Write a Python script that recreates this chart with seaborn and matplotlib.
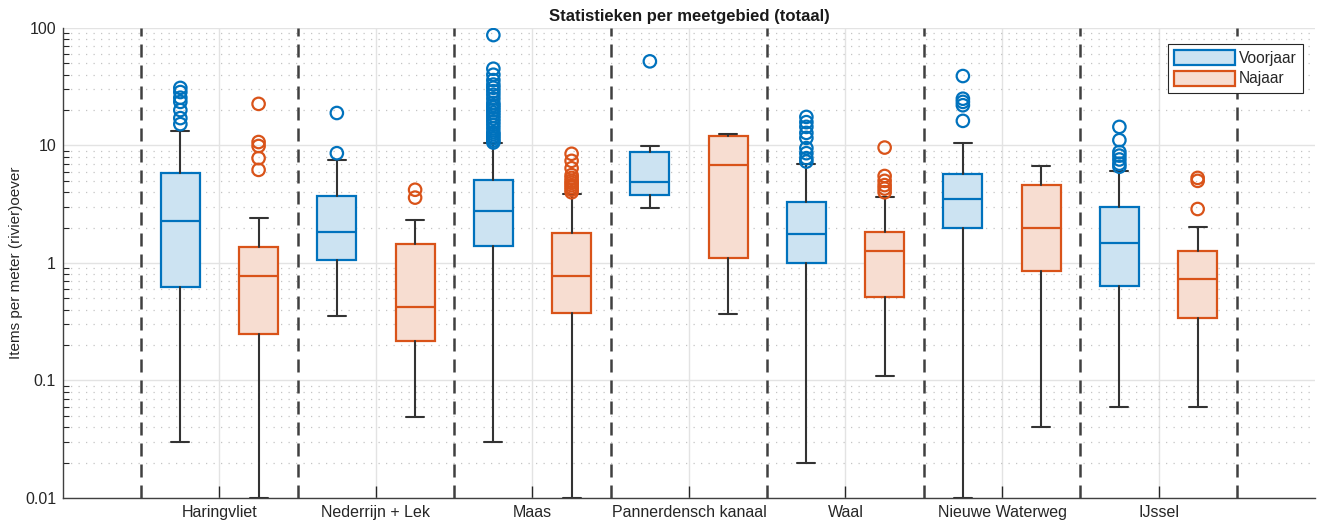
import matplotlib
matplotlib.use("Agg")
import matplotlib.pyplot as plt
from matplotlib.patches import Patch
import numpy as np
import pandas as pd
import seaborn as sns

# Meetgebieden en seizoenen
gebieden = ["Haringvliet", "Nederrijn + Lek", "Maas", "Pannerdensch kanaal",
            "Waal", "Nieuwe Waterweg", "IJssel"]
seizoenen = ["Voorjaar", "Najaar"]

# Boxplot-statistieken (items per meter oever): onderste whisker, Q1, mediaan, Q3, bovenste whisker
voorjaar_min = [0.03, 0.355, 0.03, 2.95, 0.02, 0.01, 0.06]
voorjaar_q1 = [0.625, 1.06, 1.40, 3.80, 1.00, 1.99, 0.64]
voorjaar_med = [2.28, 1.84, 2.77, 4.90, 1.77, 3.50, 1.48]
voorjaar_q3 = [5.80, 3.72, 5.10, 8.80, 3.30, 5.70, 3.00]
voorjaar_max = [13.3, 7.5, 10.5, 9.9, 6.97, 10.5, 6.07]

najaar_min = [0.01, 0.049, 0.01, 0.368, 0.11, 0.04, 0.06]
najaar_q1 = [0.249, 0.217, 0.375, 1.10, 0.51, 0.855, 0.34]
najaar_med = [0.776, 0.42, 0.776, 6.8, 1.26, 1.99, 0.73]
najaar_q3 = [1.37, 1.45, 1.80, 12.0, 1.84, 4.60, 1.26]
najaar_max = [2.42, 2.32, 3.87, 12.5, 3.65, 6.70, 2.02]

# Uitschieters per meetgebied
voorjaar_uitschieters = [
    [30.9, 28.5, 25.5, 23.5, 20.0, 17.1, 15.2],
    [18.9, 8.6],
    [87.0, 45, 40, 36, 33, 31, 29, 27, 25, 23, 22, 21, 20, 19, 18, 17,
     16, 15, 14, 13, 12.5, 12, 11.5, 11, 10.6],
    [52.0],
    [17.5, 15.8, 14.4, 12.8, 11.6, 9.5, 8.6, 7.8, 7.3],
    [39.0, 25.0, 23.5, 22.0, 16.2],
    [14.4, 11.1, 8.8, 8.2, 7.6, 7.0, 6.6],
]
najaar_uitschieters = [
    [22.6, 10.7, 9.9, 7.8, 6.2],
    [4.2, 3.6],
    [8.5, 7.4, 6.4, 5.6, 5.3, 5.0, 4.8, 4.6, 4.4, 4.2, 4.0],
    [],
    [9.6, 5.5, 5.0, 4.6, 4.3, 4.0],
    [],
    [5.3, 5.0, 2.88],
]

blauw = "#0072BD"
oranje = "#D95319"
blauw_licht = "#CCE3F2"
oranje_licht = "#F7DDD1"
whisker_kleur = "#333333"

sns.set_theme(style="white")
plt.rcParams["font.family"] = ["Liberation Sans", "DejaVu Sans"]
plt.rcParams["axes.edgecolor"] = "#404040"
plt.rcParams["xtick.color"] = "#262626"
plt.rcParams["ytick.color"] = "#262626"

fig = plt.figure(figsize=(13.17, 5.23), dpi=100)
ax = fig.add_axes([0.0478, 0.0478, 0.9507, 0.8987])

groep_pos = np.arange(1, len(gebieden) + 1)
breedte = 0.25
verschuiving = 0.25


def stats_van(lo, q1, med, q3, hi):
    return [dict(whislo=a, q1=b, med=c, q3=d, whishi=e, fliers=[])
            for a, b, c, d, e in zip(lo, q1, med, q3, hi)]


reeksen = [
    (stats_van(voorjaar_min, voorjaar_q1, voorjaar_med, voorjaar_q3, voorjaar_max),
     groep_pos - verschuiving, blauw, blauw_licht, voorjaar_uitschieters),
    (stats_van(najaar_min, najaar_q1, najaar_med, najaar_q3, najaar_max),
     groep_pos + verschuiving, oranje, oranje_licht, najaar_uitschieters),
]

for stats, posities, rand, vul, uitschieters in reeksen:
    ax.bxp(stats, positions=posities, widths=breedte, patch_artist=True,
           showfliers=False, manage_ticks=False, capwidths=0.115,
           boxprops=dict(facecolor=vul, edgecolor=rand, linewidth=1.6),
           medianprops=dict(color=rand, linewidth=1.6),
           whiskerprops=dict(color=whisker_kleur, linewidth=1.5),
           capprops=dict(color=whisker_kleur, linewidth=1.5),
           zorder=3)
    df = pd.DataFrame({
        "x": [p for p, u in zip(posities, uitschieters) for _ in u],
        "y": [v for u in uitschieters for v in u],
    })
    sns.scatterplot(data=df, x="x", y="y", ax=ax, marker="o", s=80,
                    color=rand, facecolor="none", edgecolor=rand,
                    linewidth=1.6, zorder=4, legend=False)

# Scheidingslijnen tussen de meetgebieden
for grens in np.arange(0.5, len(gebieden) + 1, 1.0):
    ax.axvline(grens, color="#404040", linewidth=1.8,
               linestyle=(0, (5.2, 3.2)), zorder=2)

ax.set_yscale("log")
ax.set_ylim(0.01, 100)
ax.set_xlim(0, len(gebieden) + 1)
ax.set_xticks(groep_pos)
ax.set_xticklabels(gebieden, fontsize=11.5)
ax.set_yticks([0.01, 0.1, 1, 10, 100])
ax.set_yticklabels(["0.01", "0.1", "1", "10", "100"], fontsize=11.5)
ax.yaxis.set_minor_locator(matplotlib.ticker.LogLocator(base=10, subs=np.arange(2, 10)))
ax.yaxis.set_minor_formatter(matplotlib.ticker.NullFormatter())

ax.tick_params(axis="both", which="major", direction="in", length=8, width=1,
               pad=5)
ax.tick_params(axis="y", which="minor", direction="in", length=4, width=0.8,
               left=True)
ax.tick_params(axis="x", which="major", length=9, bottom=True)

ax.grid(True, which="major", axis="both", color="#E3E3E3", linewidth=1.0,
        linestyle="-", zorder=0)
ax.grid(True, which="minor", axis="y", color="#C4C4C4", linewidth=0.9,
        linestyle=(0, (1, 5)), zorder=0)
ax.set_axisbelow(True)

for kant in ["top", "right"]:
    ax.spines[kant].set_visible(False)
for kant in ["left", "bottom"]:
    ax.spines[kant].set_color("#404040")
    ax.spines[kant].set_linewidth(1.0)

ax.set_xlabel("")
ax.set_ylabel("Items per meter (rivier)oever", fontsize=11, color="#262626",
              labelpad=1)
ax.set_title("Statistieken per meetgebied (totaal)", fontsize=12,
             fontweight="bold", color="#1a1a1a", pad=5)

handles = [Patch(facecolor=blauw_licht, edgecolor=blauw, linewidth=1.6, label=seizoenen[0]),
           Patch(facecolor=oranje_licht, edgecolor=oranje, linewidth=1.6, label=seizoenen[1])]
leg = ax.legend(handles=handles, loc="upper right", bbox_to_anchor=(0.99, 0.966),
                borderaxespad=0, fontsize=11.2, handlelength=3.9,
                handleheight=1.1, handletextpad=0.25, labelspacing=0.3,
                borderpad=0.4, fancybox=False, framealpha=1.0,
                edgecolor="#262626")
leg.get_frame().set_linewidth(0.8)

fig.savefig("out.png", dpi=100)
